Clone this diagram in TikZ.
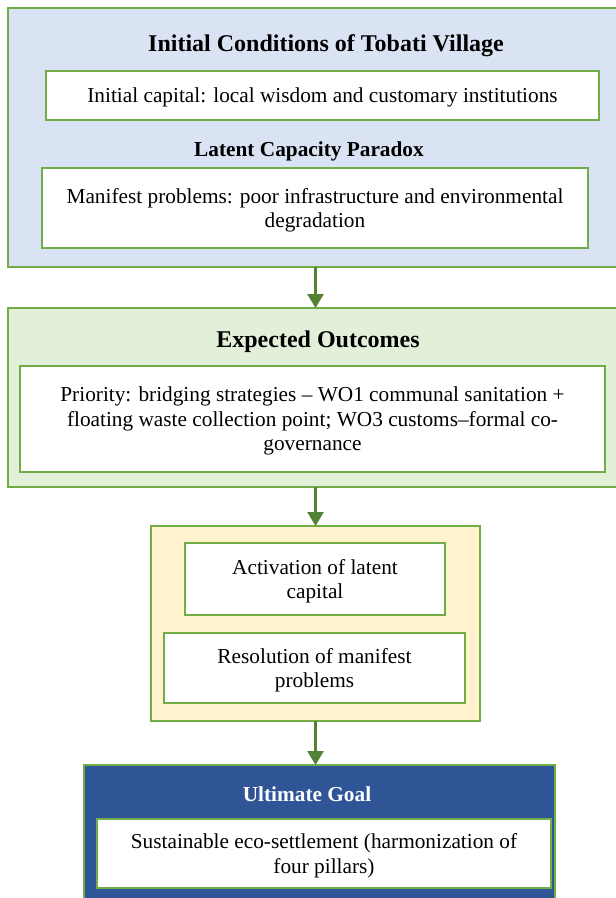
\documentclass[tikz,border=0pt]{standalone}
\usepackage{fontspec}
\setmainfont{Liberation Serif}
\usetikzlibrary{arrows.meta}
\definecolor{lblue}{HTML}{DAE3F3}
\definecolor{lgreen}{HTML}{E2F0D9}
\definecolor{lyellow}{HTML}{FFF2CC}
\definecolor{dblue}{HTML}{2F5597}
\definecolor{gborder}{HTML}{70AD47}
\definecolor{garrow}{HTML}{548235}
\newcommand{\bodyfont}{\fontsize{21.3}{24.5}\selectfont}
\newcommand{\bigfont}{\bfseries\fontsize{24}{28}\selectfont}
\begin{document}
\begin{tikzpicture}[x=1pt,y=-1pt,
  frame/.style={draw=gborder, line width=2.6pt, inner sep=0pt, outer sep=0pt, anchor=north west},
  inbox/.style={frame, fill=white, align=center, font=\bodyfont, text depth=0pt},
  ttl/.style={font=\bigfont, inner sep=0pt, text depth=0pt},
  subttl/.style={font=\bfseries\bodyfont, inner sep=0pt, text depth=0pt},
  arr/.style={draw=garrow, line width=2.5pt, -{Triangle[width=16pt,length=14pt]}}]
\useasboundingbox (0,0) rectangle (616,898);
\clip (0,0) rectangle (616,898);
\fill[white] (0,0) rectangle (616,898);

% Box 1
\node[frame, fill=lblue, minimum width=620, minimum height=259] (b1) at (8,8) {};
\node[ttl] (t1) at (326,43) {Initial Conditions of Tobati Village};
\node[inbox, minimum width=553, minimum height=49] (i1) at (46,71)
  {Initial capital: local wisdom and customary institutions};
\node[subttl] (t2) at (309,149) {Latent Capacity Paradox};
\node[inbox, minimum width=546, minimum height=80] (i2) at (42,168)
  {Manifest problems: poor infrastructure and environmental\\degradation};

% Box 2
\node[frame, fill=lgreen, minimum width=620, minimum height=179] (b2) at (8,308) {};
\node[ttl] (t3) at (318,339) {Expected Outcomes};
\node[inbox, minimum width=585, minimum height=106] (i3) at (20,366)
  {Priority: bridging strategies – WO1 communal sanitation +\\floating waste collection point; WO3 customs–formal co-\\governance};

% Box 3
\node[frame, fill=lyellow, minimum width=329, minimum height=195] (b3) at (151,526) {};
\node[inbox, minimum width=260, minimum height=72] (i4) at (185,543)
  {Activation of latent\\capital};
\node[inbox, minimum width=301, minimum height=70] (i5) at (164,633)
  {Resolution of manifest\\problems};

% Box 4
\node[frame, fill=dblue, minimum width=471, minimum height=150] (b4) at (84,765) {};
\node[subttl, text=white] (t4) at (307,794) {Ultimate Goal};
\node[inbox, minimum width=454, minimum height=69] (i6) at (97,819)
  {Sustainable eco-settlement (harmonization of\\four pillars)};

% Arrows
\draw[arr] (b1.south -| b3.north) -- (b2.north -| b3.north);
\draw[arr] (b2.south -| b3.north) -- (b3.north);
\draw[arr] (b3.south) -- (b4.north -| b3.south);
\end{tikzpicture}
\end{document}
